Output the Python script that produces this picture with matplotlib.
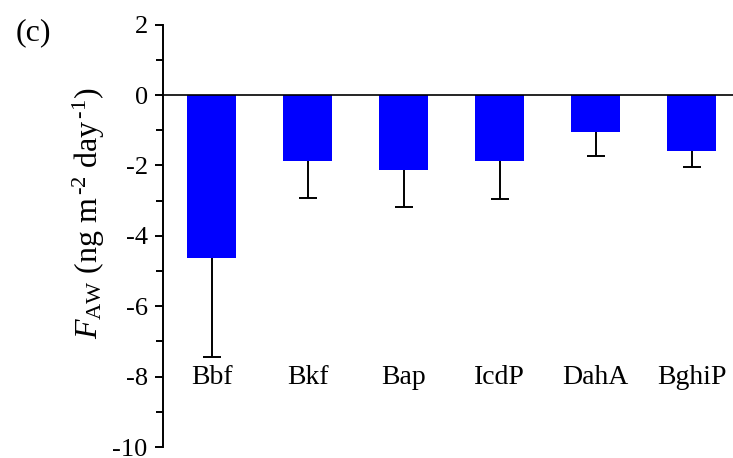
import numpy as np
import matplotlib
matplotlib.use("Agg")
from matplotlib import pyplot as plt

plt.rcParams['font.family'] = 'Liberation Serif'
plt.rcParams['mathtext.fontset'] = 'custom'
plt.rcParams['mathtext.rm'] = 'Liberation Serif'
plt.rcParams['mathtext.it'] = 'Liberation Serif:italic'
plt.rcParams['axes.unicode_minus'] = False

# PAH air-water exchange flux (mean and lower error)
compounds = ['Bbf', 'Bkf', 'Bap', 'IcdP', 'DahA', 'BghiP']
flux = [-4.62, -1.87, -2.13, -1.875, -1.04, -1.59]
flux_err = [2.81, 1.04, 1.06, 1.075, 0.68, 0.44]

fig = plt.figure(figsize=(7.33, 4.58), dpi=100)
ax = fig.add_axes([0.2224, 0.024, 0.7776, 0.922])

x = np.arange(len(compounds))
ax.bar(x, flux, width=0.51, color='#0000FF', edgecolor='none', zorder=2)
# error bars point downwards only
_, caps, _ = ax.errorbar(x, flux, yerr=[flux_err, np.zeros(len(flux))], fmt='none',
                         ecolor='black', elinewidth=1.4, capsize=6.5, capthick=1.4, zorder=3)
for cap in caps:
    if np.allclose(cap.get_ydata(), flux):
        cap.set_visible(False)
ax.axhline(0, color='black', lw=1.2, zorder=4)

for xi, name in zip(x, compounds):
    ax.text(xi, -8.2, name, ha='center', va='baseline', fontsize=20)

ax.set_xlim(-0.505, 5.43)
ax.set_ylim(-10, 2)
ax.set_yticks(np.arange(-10, 3, 2))
ax.set_yticks(np.arange(-9, 2, 2), minor=True)
ax.set_xticks([])
for side in ['top', 'right', 'bottom']:
    ax.spines[side].set_visible(False)
ax.spines['left'].set_linewidth(1.4)
ax.tick_params(axis='y', which='major', length=6, width=1.4, labelsize=19, pad=5)
ax.tick_params(axis='y', which='minor', length=5, width=1.4)

fig.text(0.121, 0.535, r'$F_{\rm AW}$ (ng m$^{\,\text{-}2}$ day$^{\,\text{-}1}$)', rotation=90,
         ha='center', va='center', fontsize=23)
fig.text(0.046, 0.928, '(c)', ha='center', va='center', fontsize=23)

fig.savefig('out.png', dpi=100)
